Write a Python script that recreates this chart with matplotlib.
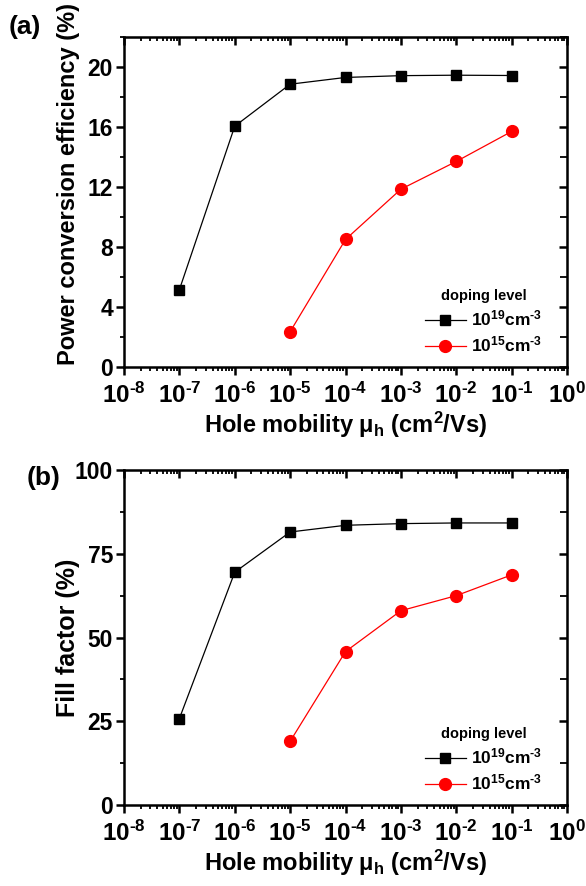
import numpy as np
import matplotlib
matplotlib.use('Agg')
import matplotlib.pyplot as plt
from matplotlib.ticker import LogLocator, MultipleLocator, NullFormatter

plt.rcParams['font.family'] = 'Liberation Sans'
plt.rcParams['font.weight'] = 'bold'
plt.rcParams['axes.labelweight'] = 'bold'
plt.rcParams['axes.unicode_minus'] = False
plt.rcParams['mathtext.fontset'] = 'custom'
plt.rcParams['mathtext.rm'] = 'Liberation Sans:bold'
plt.rcParams['mathtext.bf'] = 'Liberation Sans:bold'
plt.rcParams['mathtext.it'] = 'Liberation Sans:bold'
plt.rcParams['mathtext.default'] = 'bf'

# hole mobility (cm2/Vs)
mu_high = [1e-7, 1e-6, 1e-5, 1e-4, 1e-3, 1e-2, 1e-1]
mu_low = [1e-5, 1e-4, 1e-3, 1e-2, 1e-1]

# power conversion efficiency (%)
pce_high = [5.15, 16.05, 18.85, 19.3, 19.42, 19.45, 19.43]
pce_low = [2.35, 8.5, 11.85, 13.7, 15.7]

# fill factor (%)
ff_high = [25.8, 69.5, 81.5, 83.5, 84.0, 84.2, 84.2]
ff_low = [19.0, 45.8, 58.0, 62.5, 68.7]

lbl_high = r'10$^{19}$cm$^{\text{-3}}$'
lbl_low = r'10$^{15}$cm$^{\text{-3}}$'
xticks = [1e-8, 1e-7, 1e-6, 1e-5, 1e-4, 1e-3, 1e-2, 1e-1, 1e0]
xticklabels = [r'10$^{\text{-8}}$', r'10$^{\text{-7}}$', r'10$^{\text{-6}}$',
               r'10$^{\text{-5}}$', r'10$^{\text{-4}}$', r'10$^{\text{-3}}$',
               r'10$^{\text{-2}}$', r'10$^{\text{-1}}$', r'10$^{0}$']

fig = plt.figure(figsize=(5.86, 8.86), dpi=100)
ax1 = fig.add_axes([0.2116, 0.5858, 0.756, 0.3725])
ax2 = fig.add_axes([0.2116, 0.0914, 0.756, 0.3781])


def style(ax, ymax, ymajor, ylabel, ysize, ycenter):
    ax.set_xscale('log')
    ax.set_xlim(1e-8, 1)
    ax.set_ylim(0, ymax)
    ax.set_xticks(xticks)
    ax.set_xticklabels(xticklabels)
    ax.xaxis.set_minor_locator(LogLocator(base=10, subs=np.arange(2, 10), numticks=20))
    ax.xaxis.set_minor_formatter(NullFormatter())
    ax.yaxis.set_major_locator(MultipleLocator(ymajor))
    ax.yaxis.set_minor_locator(MultipleLocator(ymajor / 2))
    for s in ax.spines.values():
        s.set_linewidth(1.8)
    ax.tick_params(which='major', direction='out', length=6, width=1.8, labelsize=16.5, pad=2)
    ax.tick_params(axis='x', which='major', pad=5, labelsize=17.5)
    ax.tick_params(which='minor', direction='out', length=3, width=1.3)
    # mirrored ticks pointing into the frame on top and right
    top = ax.secondary_xaxis('top')
    top.set_xticks(xticks)
    top.xaxis.set_minor_locator(LogLocator(base=10, subs=np.arange(2, 10), numticks=20))
    top.tick_params(which='major', direction='in', length=6, width=1.8, labeltop=False)
    top.tick_params(which='minor', direction='in', length=3, width=1.3)
    right = ax.secondary_yaxis('right')
    right.yaxis.set_major_locator(MultipleLocator(ymajor))
    right.yaxis.set_minor_locator(MultipleLocator(ymajor / 2))
    right.tick_params(which='major', direction='in', length=6, width=1.8, labelright=False)
    right.tick_params(which='minor', direction='in', length=5, width=1.3)
    ax.set_xlabel(r'Hole mobility $\mu_h$ (cm$^2$/Vs)', fontsize=17, labelpad=2)
    ax.set_ylabel(ylabel, fontsize=ysize)
    ax.yaxis.set_label_coords(-0.1, ycenter)


for ax, yh, yl in [(ax1, pce_high, pce_low), (ax2, ff_high, ff_low)]:
    ax.plot(mu_high, yh, color='black', lw=0.9, marker='s', ms=7, label=lbl_high)
    ax.plot(mu_low, yl, color='red', lw=0.9, marker='o', ms=8.5, label=lbl_low)
    leg = ax.legend(loc='lower right', bbox_to_anchor=(0.98, -0.01), frameon=False,
                    title='doping level', fontsize=12.5, title_fontsize=10.5,
                    handlelength=2.4, handletextpad=0.3, labelspacing=0.35)
    leg.get_title().set_fontweight('bold')

style(ax1, 22, 4, 'Power conversion efficiency (%)', 17, 0.555)
style(ax2, 100, 25, 'Fill factor (%)', 18, 0.5)

fig.text(0.015, 0.962, '(a)', fontsize=19, fontweight='bold')
fig.text(0.045, 0.453, '(b)', fontsize=19, fontweight='bold')

fig.savefig('out.png', dpi=100)
